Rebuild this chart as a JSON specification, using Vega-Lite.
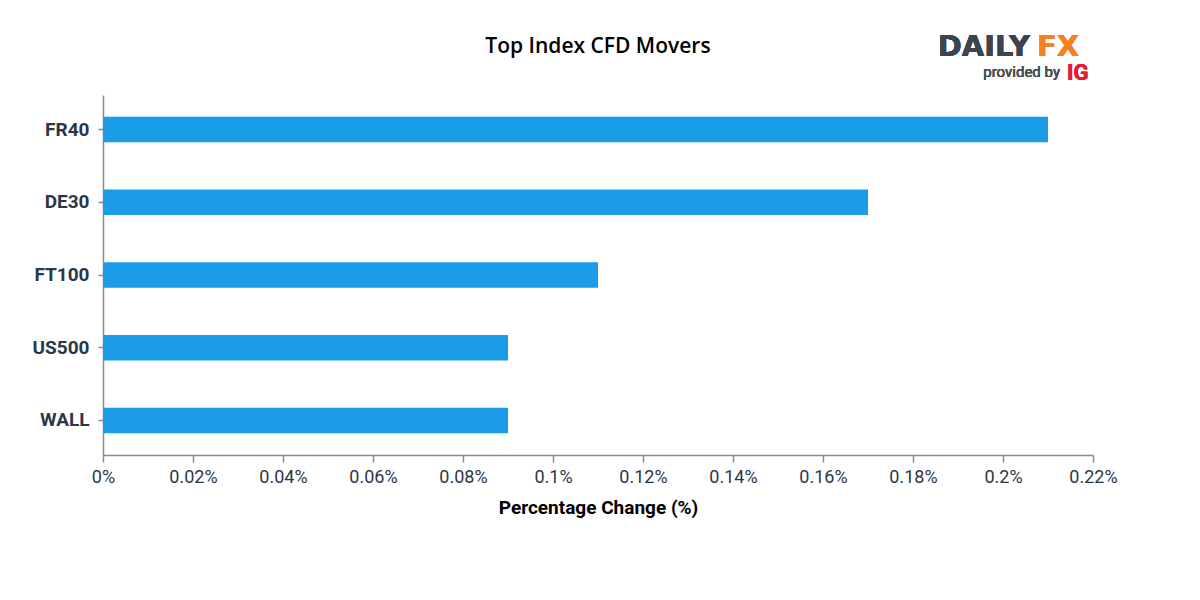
{
  "$schema": "https://vega.github.io/schema/vega-lite/v6.json",
  "autosize": {"type": "none"},
  "width": 990,
  "height": 360,
  "padding": {"left": 103, "top": 95, "right": 107, "bottom": 145},
  "background": "white",
  "config": {"view": {"stroke": null}},
  "title": {
    "text": "Top Index CFD Movers",
    "font": "Open Sans",
    "fontSize": 21,
    "fontWeight": 600,
    "color": "#000000",
    "anchor": "middle",
    "frame": "group",
    "offset": -24
  },
  "data": {
    "values": [
      {"symbol": "FR40", "change": 0.21},
      {"symbol": "DE30", "change": 0.17},
      {"symbol": "FT100", "change": 0.11},
      {"symbol": "US500", "change": 0.09},
      {"symbol": "WALL", "change": 0.09}
    ]
  },
  "layer": [
    {
      "mark": {"type": "bar", "color": "#1a9de6"},
      "encoding": {
        "y": {
          "field": "symbol",
          "type": "nominal",
          "sort": null,
          "scale": {"paddingInner": 0.65, "paddingOuter": 0.3},
          "axis": {
            "title": null,
            "labelFont": "Roboto",
            "labelFontWeight": "bold",
            "labelFontSize": 19,
            "labelColor": "#2b3747",
            "labelPadding": 9,
            "tickSize": 5,
            "tickColor": "#8a8a8a",
            "tickWidth": 1.5,
            "domainColor": "#8a8a8a",
            "domainWidth": 1.5
          }
        },
        "x": {
          "field": "change",
          "type": "quantitative",
          "scale": {"domain": [0, 0.22], "nice": false},
          "axis": {
            "title": "Percentage Change (%)",
            "values": [0, 0.02, 0.04, 0.06, 0.08, 0.1, 0.12, 0.14, 0.16, 0.18, 0.2, 0.22],
            "labelExpr": "format(datum.value, '~g') + '%'",
            "labelFont": "Roboto",
            "labelFontSize": 18,
            "labelColor": "#2b3747",
            "labelPadding": 6,
            "labelFlush": false,
            "labelOverlap": false,
            "tickSize": 7,
            "tickColor": "#8a8a8a",
            "tickWidth": 1.5,
            "domainColor": "#8a8a8a",
            "domainWidth": 1.5,
            "grid": false,
            "titleFont": "Roboto",
            "titleFontWeight": "bold",
            "titleFontSize": 19,
            "titleColor": "#000000",
            "titlePadding": 12
          }
        }
      }
    },
    {
      "mark": {"type": "text", "text": "DAILY", "font": "DejaVu Sans", "fontWeight": "bold", "fontSize": 29, "color": "#3d4450", "align": "right", "baseline": "alphabetic"},
      "encoding": {"x": {"value": 927}, "y": {"value": -39}}
    },
    {
      "mark": {"type": "text", "text": "FX", "font": "DejaVu Sans", "fontWeight": "bold", "fontSize": 29, "color": "#f5821f", "align": "left", "baseline": "alphabetic"},
      "encoding": {"x": {"value": 934}, "y": {"value": -39}}
    },
    {
      "mark": {"type": "text", "text": "provided by", "font": "Roboto", "fontSize": 15, "color": "#4a4f57", "align": "right", "baseline": "alphabetic"},
      "encoding": {"x": {"value": 957}, "y": {"value": -18}}
    },
    {
      "mark": {"type": "text", "text": "IG", "font": "Roboto", "fontWeight": "bold", "fontSize": 22, "color": "#e4202e", "align": "left", "baseline": "alphabetic"},
      "encoding": {"x": {"value": 964}, "y": {"value": -15}}
    }
  ]
}
